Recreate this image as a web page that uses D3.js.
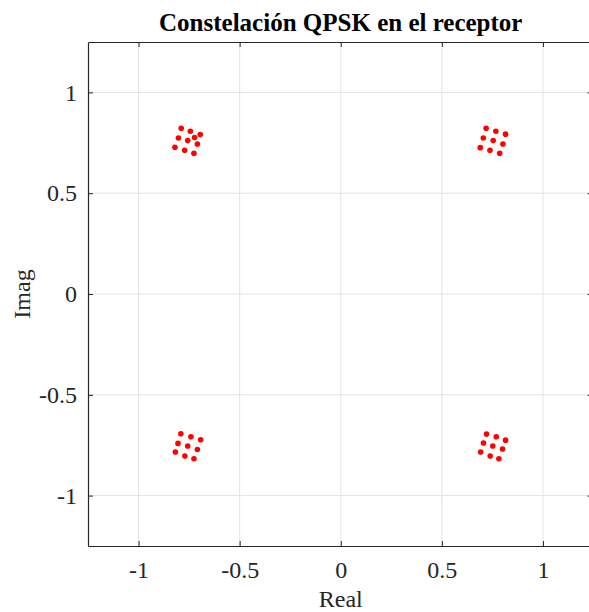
<!DOCTYPE html>
<html>
<head>
<meta charset="utf-8">
<script src="https://cdn.jsdelivr.net/npm/d3@7"></script>
<style>
  html, body { margin: 0; padding: 0; background: #fff; overflow: hidden; }
  svg text { font-family: "Liberation Serif", "Times New Roman", serif; fill: #262626; }
</style>
</head>
<body>
<svg id="chart" width="589" height="612"></svg>
<script>
// Received QPSK symbols (in-phase / quadrature components)
const realPart = [
  -0.789, -0.744, -0.695, -0.803, -0.757, -0.723, -0.709, -0.820, -0.772, -0.726,
   0.719,  0.767,  0.815,  0.705,  0.754,  0.802,  0.690,  0.738,  0.786,
  -0.791, -0.741, -0.693, -0.805, -0.757, -0.709, -0.818, -0.771, -0.726,
   0.721,  0.769,  0.815,  0.706,  0.752,  0.800,  0.692,  0.739,  0.782
];
const imagPart = [
   0.822,  0.807,  0.791,  0.774,  0.761,  0.776,  0.744,  0.728,  0.713,  0.698,
   0.822,  0.807,  0.793,  0.774,  0.761,  0.744,  0.726,  0.713,  0.698,
  -0.693, -0.708, -0.723, -0.741, -0.754, -0.771, -0.784, -0.804, -0.817,
  -0.695, -0.708, -0.725, -0.739, -0.754, -0.769, -0.784, -0.804, -0.817
];
const xTicks = [-1, -0.5, 0, 0.5, 1];
const yTicks = [-1, -0.5, 0, 0.5, 1];
const xDomain = [-1.25, 1.25];
const yDomain = [-1.25, 1.25];
const titleText = "Constelación QPSK en el receptor";
const xLabel = "Real";
const yLabel = "Imag";

const svg = d3.select("#chart");
const plotLeft = 88, plotRight = 593.5, plotTop = 42, plotBottom = 546;

const x = d3.scaleLinear().domain(xDomain).range([plotLeft, plotRight]);
const y = d3.scaleLinear().domain(yDomain).range([plotBottom, plotTop]);

// grid
const grid = svg.append("g");
grid.selectAll("line.gx").data(xTicks).join("line")
  .attr("x1", d => x(d)).attr("x2", d => x(d))
  .attr("y1", plotTop).attr("y2", plotBottom)
  .attr("stroke", "#e3e3e3").attr("stroke-width", 1);
grid.selectAll("line.gy").data(yTicks).join("line")
  .attr("y1", d => y(d)).attr("y2", d => y(d))
  .attr("x1", plotLeft).attr("x2", plotRight)
  .attr("stroke", "#e3e3e3").attr("stroke-width", 1);

// points
svg.append("g").selectAll("circle").data(realPart.map((r, i) => [r, imagPart[i]])).join("circle")
  .attr("cx", d => x(d[0])).attr("cy", d => y(d[1]))
  .attr("r", 2.8).attr("fill", "#ff0000");

// axes
const fmt = d => d3.format("")(d).replace("−", "-");
const axisStyle = g => {
  g.select(".domain").attr("stroke", "#262626").attr("stroke-width", 1.2).attr("fill", "none");
  g.selectAll(".tick line").attr("stroke", "#262626").attr("stroke-width", 1);
  g.selectAll(".tick text").attr("font-size", 24).attr("fill", "#262626")
    .style("font-family", "'Liberation Serif', serif");
};

svg.append("g").attr("transform", `translate(0,${plotBottom})`)
  .call(d3.axisBottom(x).tickValues(xTicks).tickSize(-5).tickSizeOuter(0).tickPadding(15).tickFormat(fmt))
  .call(axisStyle);
svg.append("g").attr("transform", `translate(0,${plotTop})`)
  .call(d3.axisTop(x).tickValues(xTicks).tickSize(-5).tickSizeOuter(0).tickFormat(""))
  .call(axisStyle);
svg.append("g").attr("transform", `translate(${plotLeft},0)`)
  .call(d3.axisLeft(y).tickValues(yTicks).tickSize(-5).tickSizeOuter(0).tickPadding(11).tickFormat(fmt))
  .call(axisStyle);
// right-hand ticks only; the frame edge falls past the page
svg.append("g").attr("transform", `translate(${plotRight},0)`)
  .call(d3.axisRight(y).tickValues(yTicks).tickSize(-6).tickSizeOuter(0).tickFormat(""))
  .call(axisStyle)
  .call(g => g.select(".domain").remove());

// labels
svg.append("text").attr("x", (plotLeft + plotRight) / 2).attr("y", 31)
  .attr("text-anchor", "middle").attr("font-size", 25).attr("font-weight", "bold")
  .style("fill", "#000").text(titleText);
svg.append("text").attr("x", (plotLeft + plotRight) / 2).attr("y", 607)
  .attr("text-anchor", "middle").attr("font-size", 24).text(xLabel);
svg.append("text").attr("transform", `translate(30,${(plotTop + plotBottom) / 2}) rotate(-90)`)
  .attr("text-anchor", "middle").attr("font-size", 24).text(yLabel);
</script>
</body>
</html>
